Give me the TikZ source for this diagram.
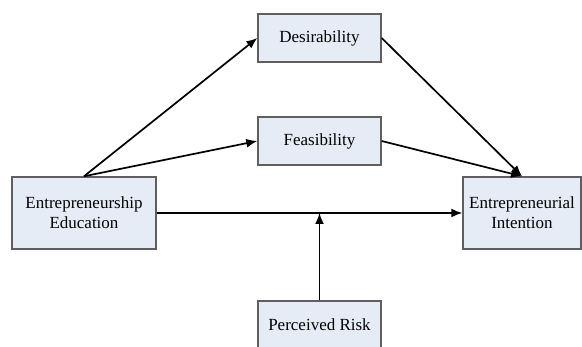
\documentclass[tikz,border=0pt]{standalone}
\usepackage{fontspec}
\setmainfont{Liberation Serif}
\usetikzlibrary{arrows.meta}
\definecolor{boxfill}{RGB}{230,236,246}
\definecolor{boxline}{RGB}{95,95,95}
\begin{document}
\begin{tikzpicture}[x=1pt,y=-1pt,
  box/.style={draw=boxline,fill=boxfill,line width=1.4pt,inner sep=0pt,align=center,
    font=\fontsize{17}{20}\selectfont},
  arr/.style={line width=1.7pt,-{Latex[length=11pt,width=9pt]}}]
\useasboundingbox (0,0) rectangle (582,347);
\clip (0,0) rectangle (582,347);
\node[box,minimum width=144pt,minimum height=72pt] (ee) at (84,213) {Entrepreneurship\\Education};
\node[box,minimum width=123pt,minimum height=48pt] (des) at (319.5,38) {Desirability};
\node[box,minimum width=123pt,minimum height=48pt] (fea) at (319.5,141) {Feasibility};
\node[box,minimum width=118pt,minimum height=72pt] (ei) at (522,213) {Entrepreneurial\\Intention};
\node[box,minimum width=123pt,minimum height=48pt] (pr) at (319.5,325) {Perceived Risk};
\coordinate (mod) at (pr.north |- ee.east);
\draw[arr] (ee.north) -- (des.west);
\draw[arr] (ee.north) -- (fea.west);
\draw[arr] (des.east) -- (ei.north);
\draw[arr] (fea.east) -- (ei.north);
\draw[arr] (ee.east) -- (ei.west);
\draw[arr] (pr.north) -- (mod);
\end{tikzpicture}
\end{document}
